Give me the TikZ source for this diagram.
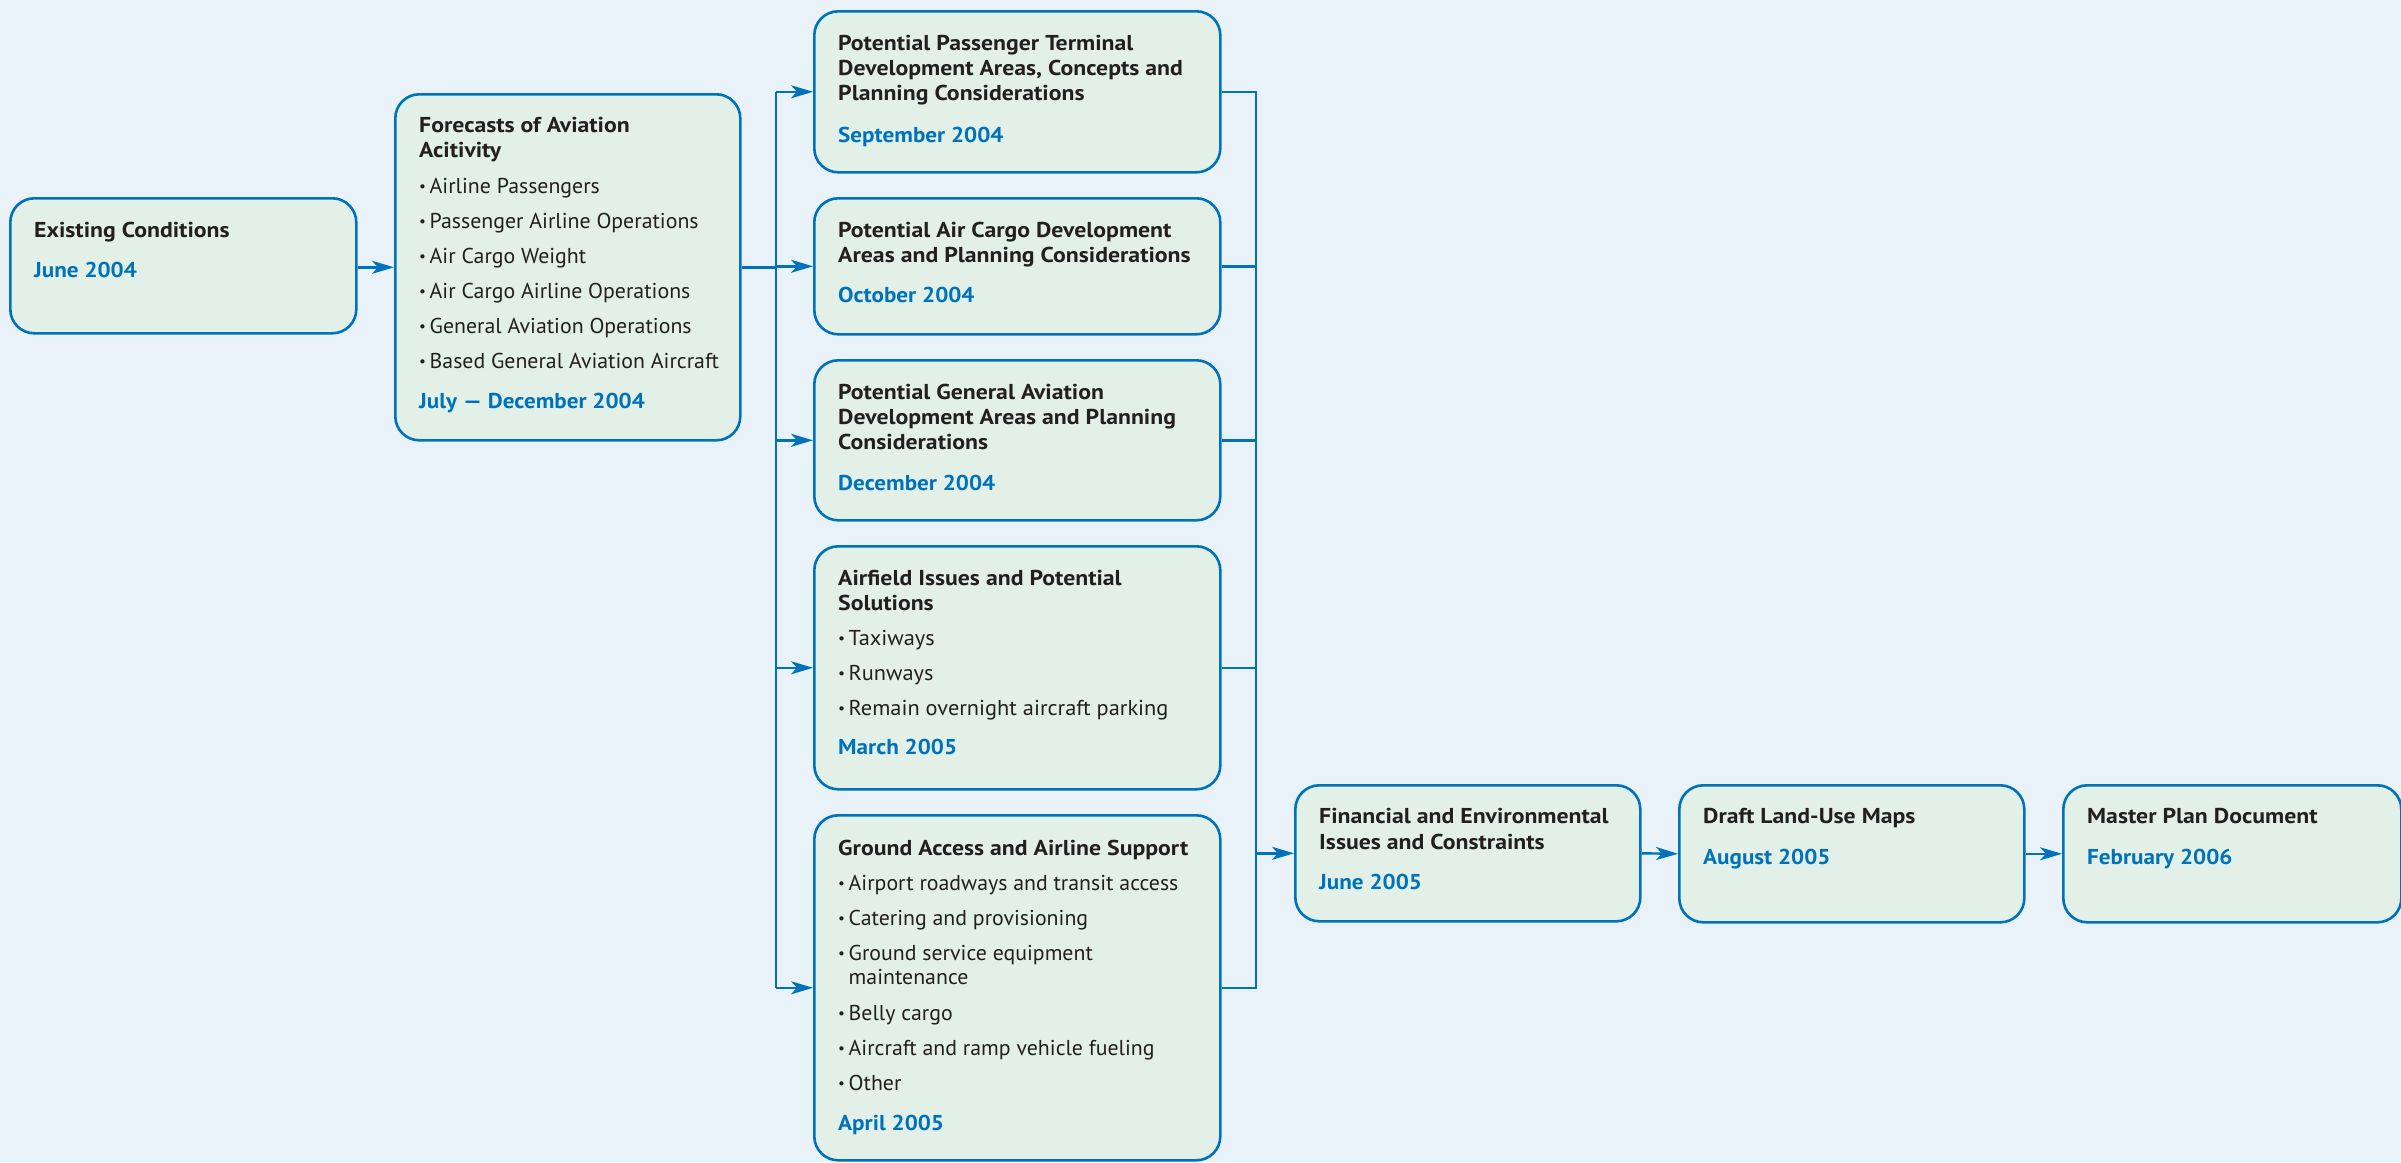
\documentclass[tikz,border=0pt]{standalone}
\usepackage{fontspec}
\setmainfont{PT Sans}
\newfontfamily\wfont{PT Sans}[FakeStretch=1.04]
\newfontfamily\cfont{PT Sans}[FakeStretch=1.015]
\newfontfamily\tfont{PT Sans}[FakeStretch=1.105]
\newfontfamily\dfont{PT Sans}[FakeStretch=1.075]
\usetikzlibrary{arrows.meta}
\definecolor{bgc}{RGB}{233,241,249}
\definecolor{boxfill}{RGB}{226,240,232}
\definecolor{blu}{RGB}{0,114,188}
\definecolor{ink}{RGB}{35,31,32}
\newcommand\ttl[1]{{\tfont\bfseries #1}}
\newcommand\dte[1]{{\dfont\bfseries\color{blu}#1}}
\newcommand\bul{\makebox[10.5pt][l]{\raisebox{1.5pt}{\fontsize{15}{15}\selectfont •}}}
\newcommand\fst{\rule{0pt}{20pt}}
\begin{document}
\begin{tikzpicture}[x=1pt,y=-1pt,
  box/.style={draw=blu, fill=boxfill, line width=2.6pt, rounded corners=24pt, rectangle, inner sep=0pt, anchor=north west},
  txtw/.style={anchor=north west, inner sep=0pt, align=left, text=ink, font=\wfont\fontsize{21.5}{25}\selectfont},
  txtc/.style={anchor=north west, inner sep=0pt, align=left, text=ink, font=\cfont\fontsize{21.5}{25}\selectfont},
  conn/.style={draw=blu, line width=2.4pt},
  arr/.style={conn, -{Stealth[length=22pt,width=13pt,inset=6pt]}}]
\fill[bgc] (0,0) rectangle (2401,1162);
\useasboundingbox (0,0) rectangle (2401,1162);

% boxes
\node[box, minimum width=346pt, minimum height=135pt] (ec) at (9,197) {};
\node[box, minimum width=345pt, minimum height=346pt] (fc) at (394,93) {};
\node[box, minimum width=406pt, minimum height=161pt] (pt) at (813,10) {};
\node[box, minimum width=406pt, minimum height=136pt] (ac) at (813,197) {};
\node[box, minimum width=406pt, minimum height=160pt] (ga) at (813,359) {};
\node[box, minimum width=406pt, minimum height=243pt] (af) at (813,545) {};
\node[box, minimum width=406pt, minimum height=345pt] (gs) at (813,814) {};
\node[box, minimum width=345pt, minimum height=136pt] (fin) at (1294,784) {};
\node[box, minimum width=345pt, minimum height=137pt] (dr) at (1678,784) {};
\node[box, minimum width=338pt, minimum height=137pt] (mp) at (2062,784) {};

% texts
\node[txtc] (ecT) at ([shift={(25,20)}]ec.north west)
  {\fst\ttl{Existing Conditions}\\[15pt]\dte{June 2004}};
\node[txtc] (fcT) at ([shift={(25,19)}]fc.north west)
  {\fst\ttl{Forecasts of Aviation}\\
   \ttl{Acitivity}\\[11pt]
   \bul Airline Passengers\\[10pt]
   \bul Passenger Airline Operations\\[10pt]
   \bul Air Cargo Weight\\[10pt]
   \bul Air Cargo Airline Operations\\[10pt]
   \bul General Aviation Operations\\[10pt]
   \bul Based General Aviation Aircraft\\[15pt]
   \dte{July — December 2004}};
\node[txtw] (ptT) at ([shift={(25,20)}]pt.north west)
  {\fst\ttl{Potential Passenger Terminal}\\
   \ttl{Development Areas, Concepts and}\\
   \ttl{Planning Considerations}\\[17pt]
   \dte{September 2004}};
\node[txtw] (acT) at ([shift={(25,20)}]ac.north west)
  {\fst\ttl{Potential Air Cargo Development}\\
   \ttl{Areas and Planning Considerations}\\[15pt]
   \dte{October 2004}};
\node[txtw] (gaT) at ([shift={(25,20)}]ga.north west)
  {\fst\ttl{Potential General Aviation}\\
   \ttl{Development Areas and Planning}\\
   \ttl{Considerations}\\[16pt]
   \dte{December 2004}};
\node[txtw] (afT) at ([shift={(25,20)}]af.north west)
  {\fst\ttl{Airfield Issues and Potential}\\
   \ttl{Solutions}\\[10pt]
   \bul Taxiways\\[10pt]
   \bul Runways\\[10pt]
   \bul Remain overnight aircraft parking\\[14pt]
   \dte{March 2005}};
\node[txtc] (gsT) at ([shift={(25,21)}]gs.north west)
  {\fst\ttl{Ground Access and Airline Support}\\[10pt]
   \bul Airport roadways and transit access\\[10pt]
   \bul Catering and provisioning\\[10pt]
   \bul Ground service equipment\\[-1pt]
   \hspace*{10.5pt}maintenance\\[11pt]
   \bul Belly cargo\\[10pt]
   \bul Aircraft and ramp vehicle fueling\\[10pt]
   \bul Other\\[15pt]
   \dte{April 2005}};
\node[txtc] (finT) at ([shift={(25,19)}]fin.north west)
  {\fst\ttl{Financial and Environmental}\\[1pt]
   \ttl{Issues and Constraints}\\[15pt]
   \dte{June 2005}};
\node[txtc] (drT) at ([shift={(25,19)}]dr.north west)
  {\fst\ttl{Draft Land-Use Maps}\\[16pt]\dte{August 2005}};
\node[txtc] (mpT) at ([shift={(25,19)}]mp.north west)
  {\fst\ttl{Master Plan Document}\\[16pt]\dte{February 2006}};

% bus coordinates
\coordinate (lb) at (776,0);
\coordinate (rb) at (1256,0);

% connectors
\draw[arr] (ec.east |- fc.west) -- (fc.west);
\draw[conn] (fc.east) -- (fc.east -| lb);
\draw[conn] (lb |- pt.west) -- (lb |- gs.west);
\draw[arr] (lb |- pt.west) -- (pt.west);
\draw[arr] (lb |- ac.west) -- (ac.west);
\draw[arr] (lb |- ga.west) -- (ga.west);
\draw[arr] (lb |- af.west) -- (af.west);
\draw[arr] (lb |- gs.west) -- (gs.west);
\draw[conn] (pt.east) -- (pt.east -| rb) -- (rb |- gs.east) -- (gs.east);
\draw[conn] (ac.east) -- (ac.east -| rb);
\draw[conn] (ga.east) -- (ga.east -| rb);
\draw[conn] (af.east) -- (af.east -| rb);
\draw[arr] (rb |- fin.west) -- (fin.west);
\draw[arr] (fin.east) -- (dr.west);
\draw[arr] (dr.east) -- (mp.west);
\end{tikzpicture}
\end{document}
